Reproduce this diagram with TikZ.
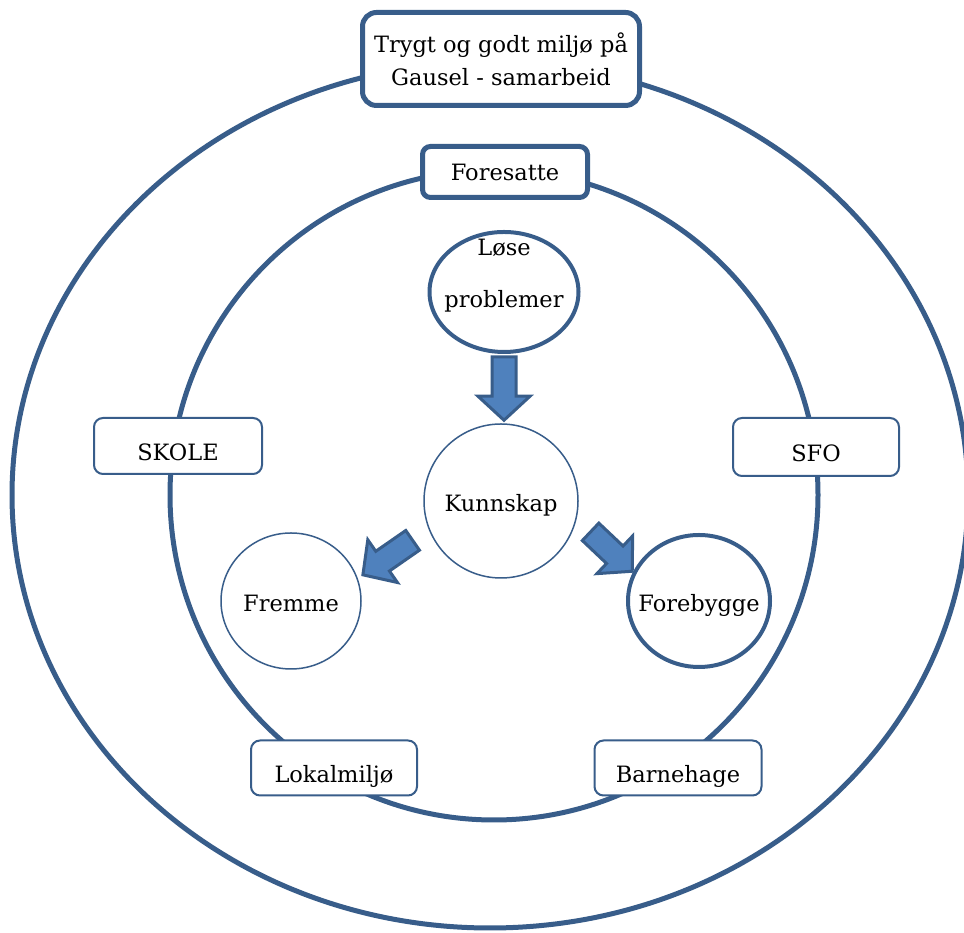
\documentclass[tikz,border=0pt]{standalone}
\usepackage{fontspec}
\setmainfont{DejaVu Serif}
\usetikzlibrary{shapes.geometric,calc}
\definecolor{rimblue}{HTML}{385D8A}
\definecolor{fillblue}{HTML}{4F81BD}
\tikzset{
  thickbox/.style={draw=rimblue, line width=5pt, rounded corners=14pt, fill=white, align=center},
  thinbox/.style={draw=rimblue, line width=2pt, rounded corners=9pt, fill=white, text height=30pt, text depth=0pt},
  thickring/.style={ellipse, draw=rimblue, line width=4pt, inner sep=0pt},
  thinring/.style={ellipse, draw=rimblue, line width=1.5pt, inner sep=0pt},
  ringtext/.style={text height=22pt, text depth=0pt},
  blkarrow/.style={draw=rimblue, fill=fillblue, line width=3pt, line join=miter},
}
\newcommand{\blockarrow}[2]{%
  \coordinate (bh) at ($(#2)!24pt!(#1)$);
  \draw[blkarrow] ($(#1)!12pt!90:(#2)$) -- ($(bh)!12pt!90:(#2)$) -- ($(bh)!26pt!90:(#2)$) -- (#2)
    -- ($(bh)!26pt!-90:(#2)$) -- ($(bh)!12pt!-90:(#2)$) -- ($(#1)!12pt!-90:(#2)$) -- cycle;}

\begin{document}
\begin{tikzpicture}[x=1pt, y=1pt, font=\fontsize{22.5}{33}\selectfont]
\useasboundingbox (0,0) rectangle (964,933);
\clip (0,0) rectangle (964,933);
\draw[rimblue, line width=5pt] (490,438) ellipse (478pt and 433pt);
\draw[rimblue, line width=5pt] (494,438) ellipse (324pt and 325pt);

\node[thickbox, minimum width=277pt, minimum height=93pt] (title) at (501,874) {Trygt og godt miljø på\\Gausel - samarbeid};
\node[thickbox, rounded corners=8pt, minimum width=165pt, minimum height=51pt] (fores) at (505,761) {Foresatte};

\node[thinbox, minimum width=168pt, minimum height=56pt] (skole) at (178,487) {SKOLE};
\node[thinbox, minimum width=166pt, minimum height=58pt] (sfo) at (816,486) {SFO};
\node[thinbox, minimum width=166pt, minimum height=55pt] (lokal) at (334,165) {Lokalmiljø};
\node[thinbox, minimum width=167pt, minimum height=55pt] (barne) at (678,165) {Barnehage};

\node[thickring, minimum width=149pt, minimum height=120pt,
  label={[align=center, font=\fontsize{22.5}{52}\selectfont, yshift=16pt]center:Løse\\problemer}] (lose) at (504,641) {};
\node[thinring, minimum width=154pt, minimum height=154pt, label={[ringtext]center:Kunnskap}] (kun) at (501,432) {};
\node[thinring, minimum width=140pt, minimum height=136pt, label={[ringtext]center:Fremme}] (fre) at (291,332) {};
\node[thickring, minimum width=142pt, minimum height=132pt, label={[ringtext]center:Forebygge}] (fore) at (699,332) {};

\coordinate (d1s) at ($(lose.south)+(0,-3)$);
\coordinate (d1t) at ($(d1s |- kun.north)+(0,3)$);
\coordinate (d2s) at ($(kun.204)!-19pt!(kun.center)$);
\coordinate (d2t) at ($(fre.20)!-6pt!(fre.center)$);
\coordinate (d3s) at ($(kun.-19)!-17pt!(kun.center)$);
\coordinate (d3t) at ($(fore.156)!-1pt!(fore.center)$);
\blockarrow{d1s}{d1t}
\blockarrow{d2s}{d2t}
\blockarrow{d3s}{d3t}
\end{tikzpicture}
\end{document}
